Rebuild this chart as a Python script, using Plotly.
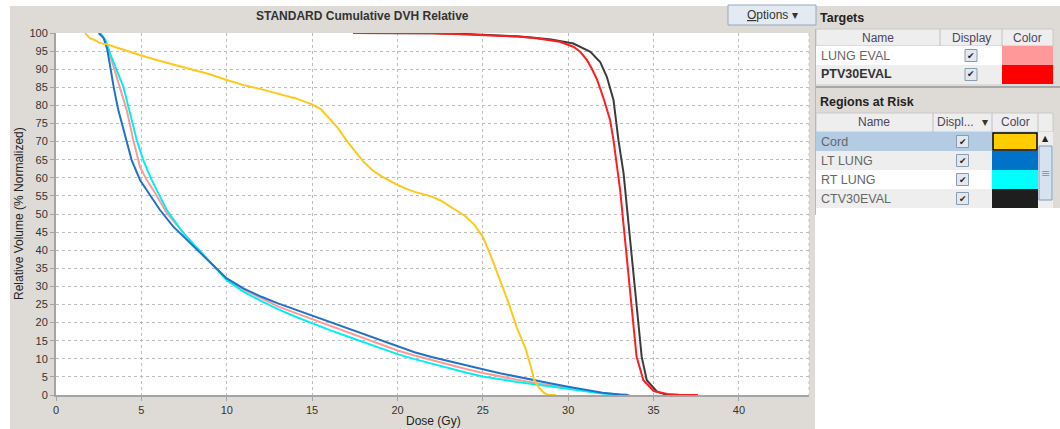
import plotly.graph_objects as go

# ---------------- data ----------------
cord_dose = [1.7, 2.0, 2.2, 2.6, 3.0, 3.5, 4.0, 4.5, 5.0, 6.0, 7.0, 8.0, 9.0, 10.0, 11.0, 12.0, 13.0, 14.0,
             15.0, 15.5, 16.0, 16.5, 17.0, 17.5, 18.0, 18.5, 19.0, 19.5, 20.0, 20.5, 21.0, 21.5, 22.0, 22.5,
             23.0, 23.5, 24.0, 24.5, 25.0, 25.5, 26.0, 26.5, 27.0, 27.5, 27.8, 28.0, 28.3, 28.6, 28.8, 29.3]
cord_vol = [100, 98.5, 98.2, 97.2, 96.8, 96.0, 95.3, 94.4, 93.8, 92.4, 91.2, 90.0, 88.6, 87.0, 85.6, 84.5, 83.3, 82.0,
            80.3, 79.0, 76.4, 73.8, 70.4, 67.6, 64.5, 62.2, 60.6, 59.3, 58.0, 57.0, 56.1, 55.5, 54.8, 53.8,
            52.3, 51.0, 49.3, 47.0, 43.7, 38.0, 32.0, 25.5, 18.5, 12.8, 8.0, 4.2, 2.0, 0.5, 0.0, 0.0]

lt_dose = [2.5, 2.8, 3.0, 3.16, 3.4, 3.65, 4.1, 4.43, 4.92, 5.31, 6.09, 6.87, 7.85, 8.83, 10.0, 11.0, 12.0, 13.0,
           14.0, 15.0, 16.0, 17.0, 18.0, 19.0, 20.0, 21.0, 22.0, 23.0, 24.0, 25.0, 26.0, 27.0, 28.0, 29.0,
           30.0, 31.0, 32.0, 33.0, 33.5]
lt_vol = [100, 98.5, 95.5, 90.7, 84.5, 78.7, 70.4, 64.9, 59.4, 56.6, 51.1, 46.5, 42.0, 37.5, 32.2, 29.4, 27.2, 25.3,
          23.6, 21.9, 20.1, 18.4, 16.7, 15.0, 13.3, 11.8, 10.5, 9.3, 8.2, 7.1, 6.0, 5.0, 4.1, 3.2,
          2.3, 1.4, 0.6, 0.15, 0.0]

lung_dose = [2.55, 2.8, 3.0, 3.36, 3.75, 4.14, 4.53, 4.92, 5.3, 5.7, 6.49, 7.46, 8.0, 9.0, 10.0, 11.0, 12.0, 13.0,
             14.0, 15.0, 16.0, 17.0, 18.0, 19.0, 20.0, 21.0, 22.0, 23.0, 24.0, 25.0, 26.0, 27.0, 28.0, 29.0,
             30.0, 31.0, 32.0, 33.0, 33.6]
lung_vol = [100, 98.5, 96.5, 90.7, 84.5, 78.7, 70.4, 63.0, 59.5, 56.6, 50.2, 44.7, 41.8, 36.8, 32.0, 29.1, 26.7, 24.5,
            22.7, 21.0, 19.1, 17.4, 15.7, 14.0, 12.3, 10.9, 9.6, 8.4, 7.2, 6.1, 5.1, 4.2, 3.4, 2.6,
            2.0, 1.2, 0.5, 0.1, 0.0]

rt_dose = [2.6, 2.9, 3.16, 3.5, 3.94, 4.3, 4.73, 5.11, 5.5, 5.9, 6.49, 7.46, 8.44, 9.41, 10.0, 11.0, 12.0, 13.0,
           14.0, 15.0, 16.0, 17.0, 18.0, 19.0, 20.0, 21.0, 22.0, 23.0, 24.0, 25.0, 26.0, 27.0, 28.0, 29.0,
           30.0, 31.0, 32.0, 33.0, 33.3]
rt_vol = [100, 98.0, 94.4, 90.5, 85.2, 78.5, 70.4, 64.9, 60.5, 56.6, 51.1, 44.7, 39.8, 34.8, 31.7, 28.5, 26.0, 23.7,
          21.7, 19.8, 18.0, 16.3, 14.6, 12.9, 11.3, 9.9, 8.6, 7.4, 6.2, 5.1, 4.3, 3.6, 3.0, 2.3,
          1.7, 1.0, 0.4, 0.05, 0.0]

ptv_dose = [17.4, 20.0, 22.0, 24.0, 26.0, 27.0, 28.0, 29.0, 29.5, 30.3, 30.7, 31.1, 31.4, 31.7, 32.1, 32.45, 32.65,
            33.04, 33.33, 33.53, 33.82, 34.0, 34.4, 35.0, 35.8, 36.5, 37.6]
ptv_vol = [100, 100, 99.9, 99.6, 99.3, 99.0, 98.6, 98.0, 97.6, 96.2, 94.8, 92.5, 90.0, 87.0, 81.5, 76.0, 70.4,
           56.6, 42.8, 31.8, 19.8, 10.6, 4.1, 1.1, 0.3, 0.1, 0.0]

ctv_dose = [17.4, 20.0, 22.0, 24.0, 26.0, 27.0, 28.0, 29.0, 30.3, 31.3, 31.87, 32.26, 32.65, 32.94, 33.24, 33.53,
            33.82, 34.1, 34.3, 34.6, 35.2, 35.8]
ctv_vol = [100, 100, 99.9, 99.7, 99.4, 99.1, 98.7, 98.2, 97.1, 94.8, 92.0, 87.9, 81.5, 70.4, 61.2, 47.4,
           31.8, 19.8, 10.6, 4.1, 0.9, 0.0]

target_names = ["LUNG EVAL", "PTV30EVAL"]
target_colors = ["#FF9999", "#FF0000"]
risk_names = ["Cord", "LT LUNG", "RT LUNG", "CTV30EVAL"]
risk_colors = ["#FFCC00", "#0073C8", "#00FFFF", "#1E1E1E"]

x_ticks = [0, 5, 10, 15, 20, 25, 30, 35, 40]
y_ticks = list(range(0, 101, 5))

# ---------------- geometry helpers ----------------
W, H = 1060, 429
L, R, T, B = 56, 809, 33, 395


def px(x):
    return (x - L) / (R - L)


def py(y):
    return (B - y) / (B - T)


FONT = "Liberation Sans"
fig = go.Figure()

series = [
    ("LUNG EVAL", lung_dose, lung_vol, "#FF9999"),
    ("RT LUNG", rt_dose, rt_vol, "#00F0F0"),
    ("LT LUNG", lt_dose, lt_vol, "#1F73C8"),
    ("Cord", cord_dose, cord_vol, "#FFC81E"),
    ("CTV30EVAL", ctv_dose, ctv_vol, "#3C3C3C"),
    ("PTV30EVAL", ptv_dose, ptv_vol, "#FF1E1E"),
]
for name, xs, ys, col in series:
    fig.add_trace(go.Scatter(x=xs, y=ys, mode="lines", name=name,
                             line=dict(color=col, width=2), showlegend=False, hoverinfo="skip"))

shapes = []
ann = []


def rect(x0, y0, x1, y1, fill, line=None, lw=1, layer="below"):
    shapes.append(dict(type="rect", xref="paper", yref="paper", x0=px(x0), x1=px(x1), y0=py(y1), y1=py(y0),
                       fillcolor=fill, line=dict(color=line if line else fill, width=lw if line else 0),
                       layer=layer))


def hline(x0, x1, y, color, w=1, dash=None, layer="above"):
    shapes.append(dict(type="line", xref="paper", yref="paper", x0=px(x0), x1=px(x1), y0=py(y), y1=py(y),
                       line=dict(color=color, width=w, dash=dash) if dash else dict(color=color, width=w),
                       layer=layer))


def vline(x, y0, y1, color, w=1, dash=None, layer="above"):
    shapes.append(dict(type="line", xref="paper", yref="paper", x0=px(x), x1=px(x), y0=py(y0), y1=py(y1),
                       line=dict(color=color, width=w, dash=dash) if dash else dict(color=color, width=w),
                       layer=layer))


def text(x, y, s, size=12, color="#333333", xanchor="left", bold=False, angle=0, font=FONT):
    if bold:
        s = "<b>" + s + "</b>"
    ann.append(dict(xref="paper", yref="paper", x=px(x), y=py(y), text=s, showarrow=False,
                    xanchor=xanchor, yanchor="middle", textangle=angle,
                    font=dict(family=font, size=size, color=color)))


GRAY = "#DEDBD7"
# panels: gray around the white plot area
rect(10, 6, 815, T, GRAY)
rect(10, B, 815, 429, GRAY)
rect(10, T, L, B, GRAY)
rect(R, T, 815, B, GRAY)
rect(815, 6, 1060, 208, GRAY)

# right plot border (dotted like grid)
vline(R, T, B, "#C4C4C4", 1, "dot")

# title, axis titles
text(362, 16, "STANDARD Cumulative DVH Relative", 12, "#333333", "center", bold=True)
text(19, 214, "Relative Volume (% Normalized)", 12, "#222222", "center", angle=-90)
text(433, 421, "Dose (Gy)", 12, "#222222", "center")

# Options button
rect(728, 5, 816, 25, "#E3EAF2", "#94A8BE", 1, "above")
text(772, 15, "<u>O</u>ptions ▾", 12, "#333333", "center")

# ---------- Targets table ----------
text(818, 18, "Targets", 12.5, "#222222", bold=True)
tcols = [816, 940, 1002, 1053]
rect(816, 29, 1053, 46, "#EEEEEE", "#C8C8C8", 1, "above")
for cx in tcols[1:-1]:
    vline(cx, 29, 46, "#C0C0C0")
text((tcols[0] + tcols[1]) / 2, 38, "Name", 12, "#4B4560", "center")
text((tcols[1] + tcols[2]) / 2, 38, "Display", 12, "#4B4560", "center")
text((tcols[2] + tcols[3]) / 2, 38, "Color", 12, "#4B4560", "center")
row_h = 19
for i, (nm, col) in enumerate(zip(target_names, target_colors)):
    y0 = 46 + i * row_h
    bg = "#FFFFFF" if i % 2 == 0 else "#EEEEEE"
    rect(816, y0, 1002, y0 + row_h, bg, layer="above")
    rect(1002, y0, 1053, y0 + row_h, col, layer="above")
    bold = nm.startswith("PTV")
    text(819, y0 + row_h / 2, nm, 12.5, "#333333" if bold else "#666666", bold=bold)
    cxm = (tcols[1] + tcols[2]) / 2
    rect(cxm - 6, y0 + row_h / 2 - 6, cxm + 6, y0 + row_h / 2 + 6, "#E2E8EF", "#8C9CB0", 1, "above")
    text(cxm, y0 + row_h / 2, "✔", 9, "#222222", "center", font="DejaVu Sans")
hline(816, 1060, 87, "#A8A8A8", 2)

# ---------- Regions at Risk table ----------
text(818, 102, "Regions at Risk", 12.5, "#222222", bold=True)
rcols = [816, 933, 992, 1038, 1053]
rect(816, 113, 1053, 132, "#EEEEEE", "#C8C8C8", 1, "above")
for cx in rcols[1:-1]:
    vline(cx, 113, 132, "#C0C0C0")
text((rcols[0] + rcols[1]) / 2, 122.5, "Name", 12, "#4B4560", "center")
text(935, 122.5, "Displ...", 12, "#4B4560")
text(985, 122.5, "▾", 12, "#333333", "center", font="DejaVu Sans")
text((rcols[2] + rcols[3]) / 2, 122.5, "Color", 12, "#4B4560", "center")
row_bgs = ["#B3CBE3", "#EEEEEE", "#FFFFFF", "#EEEEEE"]
for i, (nm, col) in enumerate(zip(risk_names, risk_colors)):
    y0 = 132 + i * row_h
    rect(816, y0, 992, y0 + row_h, row_bgs[i], layer="above")
    if i == 0:
        rect(993, y0 + 1, 1037, y0 + row_h - 1, col, "#000000", 1.5, "above")
    else:
        rect(992, y0, 1038, y0 + row_h, col, layer="above")
    text(819, y0 + row_h / 2, nm, 12.5, "#666666")
    cxm = (rcols[1] + rcols[2]) / 2
    rect(cxm - 6, y0 + row_h / 2 - 6, cxm + 6, y0 + row_h / 2 + 6, "#E2E8EF", "#8C9CB0", 1, "above")
    text(cxm, y0 + row_h / 2, "✔", 9, "#222222", "center", font="DejaVu Sans")
# scrollbar
rect(1038, 132, 1053, 208, "#EEEEEE", layer="above")
text(1045.5, 138, "▲", 8, "#222222", "center", font="DejaVu Sans")
rect(1039, 146, 1052, 200, "#D6E2EF", "#7F9BBD", 1, "above")
text(1045.5, 173, "≡", 11, "#7F9BBD", "center", font="DejaVu Sans")
vline(815.5, 29, 215, "#B8B8B8")

fig.update_layout(
    width=W, height=H,
    margin=dict(l=L, r=W - R, t=T, b=H - B, pad=0),
    paper_bgcolor="#FFFFFF", plot_bgcolor="#FFFFFF",
    shapes=shapes, annotations=ann,
    font=dict(family=FONT, size=11, color="#333333"),
    xaxis=dict(range=[0, 44.1], tickvals=x_ticks, ticktext=[str(v) for v in x_ticks],
               showgrid=True, gridcolor="#BDBDBD", griddash="dot", gridwidth=1,
               showline=True, linecolor="#A4A4A4", linewidth=2, ticks="outside", ticklen=4,
               tickcolor="#A4A4A4", tickfont=dict(size=11, color="#333333"), zeroline=False, fixedrange=True),
    yaxis=dict(range=[0, 100], tickvals=y_ticks, ticktext=[str(v) for v in y_ticks],
               showgrid=True, gridcolor="#BDBDBD", griddash="dot", gridwidth=1,
               showline=True, linecolor="#A4A4A4", linewidth=2, ticks="outside", ticklen=4,
               tickcolor="#A4A4A4", tickfont=dict(size=11, color="#333333"), zeroline=False, fixedrange=True),
)

fig.write_html("out.html", config={"displayModeBar": False},
               post_script="document.body.style.margin='0';document.body.style.overflow='hidden';")
